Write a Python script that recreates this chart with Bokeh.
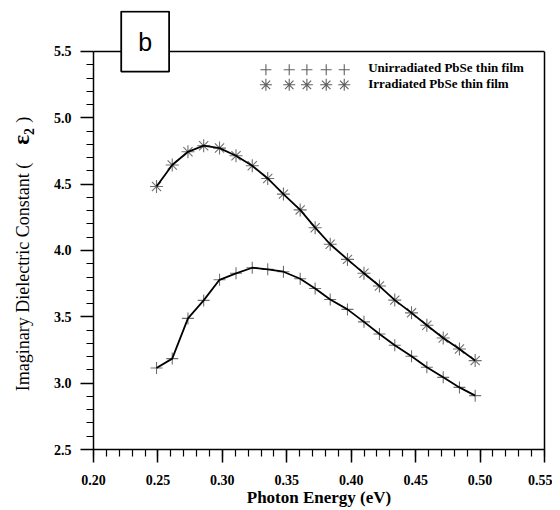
import math
from bokeh.plotting import figure
from bokeh.layouts import row
from bokeh.models import FixedTicker, PrintfTickFormatter, Label, Range1d, Span, LinearAxis
from bokeh.core.properties import value
from bokeh.embed import file_html
from bokeh.resources import INLINE

# ---- data ----
energy = [0.2489, 0.2611, 0.2733, 0.2855, 0.2978, 0.3106, 0.3232, 0.3352, 0.3474,
          0.3604, 0.3720, 0.3837, 0.3971, 0.4099, 0.4219, 0.4338, 0.4468, 0.4587,
          0.4714, 0.4840, 0.4962]
unirradiated = [3.114, 3.185, 3.488, 3.624, 3.779, 3.828, 3.870, 3.858, 3.840,
                3.787, 3.714, 3.631, 3.556, 3.462, 3.371, 3.286, 3.203, 3.120,
                3.044, 2.968, 2.906]
irradiated = [4.482, 4.644, 4.744, 4.790, 4.772, 4.714, 4.639, 4.543, 4.425,
              4.306, 4.172, 4.047, 3.933, 3.828, 3.732, 3.626, 3.530, 3.437,
              3.341, 3.258, 3.170]

x_major = [0.20, 0.25, 0.30, 0.35, 0.40, 0.45, 0.50, 0.55]
x_minor = [round(0.20 + 0.01 * i, 2) for i in range(36)]
y_major = [2.5, 3.0, 3.5, 4.0, 4.5, 5.0, 5.5]
y_minor = [round(2.5 + 0.1 * i, 1) for i in range(31)]

series_labels = ["Unirradiated PbSe thin film", "Irradiated PbSe thin film"]
legend_x = [0.3338, 0.3519, 0.3656, 0.3806, 0.3946]
legend_y = [5.362, 5.249]
legend_text_x = 0.4132
legend_text_y = [5.377, 5.257]

x_title = "Photon Energy (eV)"
y_title_parts = ["Imaginary Dielectric Constant (", "\u025b\u2082", ")"]

SERIF = "Liberation Serif"
Y_LO, Y_HI, Y_TOP = 2.5, 5.5, 5.809
H = 510
TOP, BOTTOM = 10, 61

# ---- narrow panel carrying the vertical axis title ----
side = figure(width=40, height=H, x_range=Range1d(0, 40), y_range=Range1d(Y_LO, Y_TOP),
              output_backend="svg", toolbar_location=None,
              min_border_left=0, min_border_right=0, min_border_top=TOP, min_border_bottom=BOTTOM)
side.axis.visible = False
side.grid.visible = False
side.outline_line_color = None
side.text(x=[22], y=[3.80], text=[y_title_parts[0]], angle=math.pi / 2,
          text_font=value(SERIF), text_font_size="18px", text_color="black",
          text_align="center", text_baseline="middle")
side.text(x=[21], y=[4.86], text=[y_title_parts[1]], angle=math.pi / 2,
          text_font=value(SERIF), text_font_style="bold", text_font_size="23px",
          text_color="black", text_align="center", text_baseline="middle")
side.text(x=[22], y=[4.985], text=[y_title_parts[2]], angle=math.pi / 2,
          text_font=value(SERIF), text_font_size="18px", text_color="black",
          text_align="center", text_baseline="middle")

# ---- main plot ----
p = figure(width=512, height=H, x_range=Range1d(0.2, 0.55), y_range=Range1d(Y_LO, Y_TOP),
           output_backend="svg", toolbar_location=None,
           min_border_left=53, min_border_right=8, min_border_top=TOP, min_border_bottom=BOTTOM)
p.grid.visible = False
p.background_fill_color = "white"
p.border_fill_color = "white"
p.outline_line_color = None

for ax in (p.xaxis[0], p.yaxis[0]):
    ax.axis_line_color = "black"
    ax.axis_line_width = 1.5
    ax.major_tick_line_color = "black"
    ax.major_tick_line_width = 1.5
    ax.minor_tick_line_color = "black"
    ax.minor_tick_line_width = 1.2
    ax.major_tick_in = 0
    ax.major_tick_out = 13
    ax.minor_tick_in = 0
    ax.minor_tick_out = 7
    ax.major_label_text_font = SERIF
    ax.major_label_text_font_style = "bold"
    ax.major_label_text_font_size = "14px"
    ax.major_label_text_color = "black"
p.xaxis[0].major_label_standoff = 12
p.yaxis[0].major_label_standoff = 9

p.xaxis[0].ticker = FixedTicker(ticks=x_major, minor_ticks=x_minor)
p.yaxis[0].ticker = FixedTicker(ticks=y_major, minor_ticks=y_minor)
p.yaxis[0].bounds = (Y_LO, Y_HI)
p.xaxis[0].formatter = PrintfTickFormatter(format="%.2f")
p.yaxis[0].formatter = PrintfTickFormatter(format="%.1f")
p.xaxis[0].axis_label = x_title
p.xaxis[0].axis_label_text_font = SERIF
p.xaxis[0].axis_label_text_font_style = "bold"
p.xaxis[0].axis_label_text_font_size = "17px"
p.xaxis[0].axis_label_text_color = "black"
p.xaxis[0].axis_label_standoff = 0

# right frame edge as a bare axis
right = LinearAxis(bounds=(Y_LO, Y_HI), ticker=FixedTicker(ticks=[]), major_tick_out=0,
                   minor_tick_out=0, major_label_text_font_size="0px",
                   axis_line_color="black", axis_line_width=1.5)
p.add_layout(right, "right")
# top frame edge
p.add_layout(Span(location=Y_HI, dimension="width", line_color="black", line_width=1.5))

# series: markers first, line on top
p.scatter(energy, unirradiated, marker="cross", size=12, line_color="#707070", line_width=1.1)
p.line(energy, unirradiated, line_color="black", line_width=1.8)
p.scatter(energy, irradiated, marker="asterisk", size=13, line_color="#707070", line_width=1.1)
p.line(energy, irradiated, line_color="black", line_width=1.8)

# legend (a row of five symbols, as in the original)
p.scatter(legend_x, [legend_y[0]] * len(legend_x), marker="cross", size=11,
          line_color="#606060", line_width=1.1)
p.scatter(legend_x, [legend_y[1]] * len(legend_x), marker="asterisk", size=12,
          line_color="#606060", line_width=1.1)
for t, ty in zip(series_labels, legend_text_y):
    p.add_layout(Label(x=legend_text_x, y=ty, text=t, text_font=SERIF, text_font_style="bold",
                       text_font_size="13px", text_color="black", text_baseline="middle",
                       text_align="left"))

# panel tag "b"
p.add_layout(Label(x=0.2401, y=5.575, text="b", text_font="Liberation Sans",
                   text_font_size="25px", text_color="black", text_align="center",
                   text_baseline="middle", background_fill_color="white",
                   border_line_color="black", border_line_width=1.8,
                   padding=dict(left=17, right=17, top=16, bottom=16)))

layout = row(side, p, spacing=0)
open("out.html", "w").write(file_html(layout, INLINE))
